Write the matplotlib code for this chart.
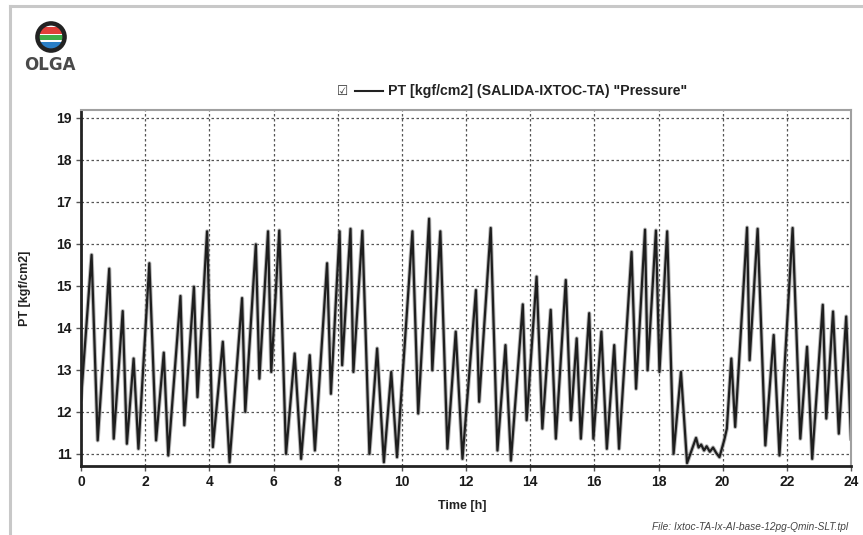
import matplotlib
matplotlib.use("Agg")
import matplotlib.pyplot as plt
from matplotlib.patches import Circle, Rectangle
from matplotlib.lines import Line2D

# ---------------- data ----------------
time_h = [0.00, 0.33, 0.52, 0.88, 1.02, 1.30, 1.43, 1.64, 1.79, 2.13, 2.34, 2.58, 2.72,
          3.10, 3.22, 3.52, 3.63, 3.93, 4.11, 4.42, 4.63, 5.02, 5.12, 5.45, 5.56, 5.83,
          5.93, 6.18, 6.39, 6.66, 6.86, 7.13, 7.29, 7.67, 7.79, 8.06, 8.14, 8.40, 8.49,
          8.77, 8.99, 9.23, 9.44, 9.67, 9.85, 10.33, 10.51, 10.85, 10.95, 11.20, 11.42,
          11.68, 11.89, 12.31, 12.41, 12.77, 12.98, 13.23, 13.40, 13.77, 13.89, 14.20,
          14.38, 14.64, 14.80, 15.11, 15.27, 15.45, 15.58, 15.84, 15.97, 16.22, 16.39,
          16.62, 16.77, 17.16, 17.30, 17.58, 17.66, 17.92, 18.03, 18.27, 18.47, 18.70,
          18.89, 19.17, 19.25, 19.33, 19.42, 19.50, 19.60, 19.70, 19.80, 19.90, 20.05,
          20.13, 20.27, 20.39, 20.76, 20.84, 21.09, 21.33, 21.59, 21.77, 22.18, 22.42,
          22.63, 22.79, 23.12, 23.23, 23.44, 23.62, 23.85, 24.00]
pressure = [12.30, 15.74, 11.32, 15.41, 11.36, 14.40, 11.24, 13.27, 11.12, 15.54, 11.32, 13.41, 10.96,
            14.76, 11.68, 14.98, 12.35, 16.30, 11.16, 13.67, 10.80, 14.71, 12.00, 15.99, 12.79, 16.30,
            12.95, 16.32, 11.00, 13.39, 10.88, 13.35, 11.08, 15.54, 12.43, 16.30, 13.11, 16.36, 12.95,
            16.31, 11.00, 13.51, 10.80, 12.95, 10.92, 16.30, 11.96, 16.60, 12.99, 16.30, 11.12,
            13.91, 10.88, 14.90, 12.24, 16.38, 11.08, 13.59, 10.84, 14.56, 11.80, 15.22,
            11.60, 14.43, 11.36, 15.14, 11.80, 13.75, 11.36, 14.35, 11.36, 13.91, 11.12,
            13.59, 11.12, 15.81, 12.55, 16.34, 12.99, 16.32, 12.95, 16.30, 11.00, 12.95,
            10.78, 11.38, 11.15, 11.22, 11.08, 11.18, 11.05, 11.15, 11.02, 10.92, 11.33,
            11.60, 13.27, 11.64, 16.39, 13.23, 16.36, 11.20, 13.83, 10.96, 16.38, 11.36,
            13.55, 10.88, 14.55, 11.84, 14.39, 11.48, 14.27, 11.36]

x_ticks = list(range(0, 25, 2))
y_ticks = list(range(11, 20))
series_label = 'PT [kgf/cm2] (SALIDA-IXTOC-TA) "Pressure"'
y_label = "PT [kgf/cm2]"
x_label = "Time [h]"
file_label = "File: Ixtoc-TA-Ix-AI-base-12pg-Qmin-SLT.tpl"

# ---------------- figure ----------------
W, H = 863, 535
fig = plt.figure(figsize=(W / 100, H / 100), dpi=100)
fig.patch.set_facecolor("white")
plt.rcParams["font.family"] = ["Liberation Sans", "DejaVu Sans"]

def fx(px):
    return px / W

def fy(py):
    return 1 - py / H

# outer frame (left & top visible)
fig.add_artist(Line2D([fx(10), fx(10)], [0, fy(6)], color="#c8c8c8", lw=2.2))
fig.add_artist(Line2D([fx(10), 1], [fy(6), fy(6)], color="#c8c8c8", lw=2.2))

ax = fig.add_axes([fx(81), fy(466), fx(851) - fx(81), fy(110) - fy(466)])
ax.plot(time_h, pressure, color="#8a8a8a", lw=3.0, alpha=0.6)
ax.plot(time_h, pressure, color="#1e1e1e", lw=1.6)
ax.set_xlim(0, 24)
ax.set_ylim(10.71, 19.19)
ax.set_xticks(x_ticks)
ax.set_yticks(y_ticks)
ax.grid(True, color="#555555", lw=0.9, linestyle=(0, (2.0, 2.0)))
ax.tick_params(axis="both", direction="out", length=3.5, width=1, color="#555555",
               labelsize=10, labelcolor="#1a1a1a", pad=3)
for lab in ax.get_xticklabels() + ax.get_yticklabels():
    lab.set_fontweight("bold")
for s in ("left", "bottom"):
    ax.spines[s].set_color("#222222")
    ax.spines[s].set_linewidth(2.0)
for s in ("top", "right"):
    ax.spines[s].set_color("#a0a0a0")
    ax.spines[s].set_linewidth(1.5)

fig.text(fx(462), fy(506), x_label, ha="center", va="center", fontsize=9,
         fontweight="bold", color="#222222")
fig.text(fx(25), fy(288), y_label, ha="center", va="center", rotation=90,
         fontsize=9, fontweight="bold", color="#222222")
fig.text(fx(848), fy(527), file_label, ha="right", va="center", fontsize=7.3,
         style="italic", color="#444444")

# legend entry
fig.text(fx(343), fy(91), "\u2611", ha="center", va="center", fontsize=9,
         color="#333333", family=["DejaVu Sans"])
fig.add_artist(Line2D([fx(355), fx(383)], [fy(91), fy(91)], color="#222222", lw=1.5))
fig.text(fx(388), fy(91), series_label, ha="left", va="center", fontsize=10.2,
         fontweight="bold", color="#222222")

# OLGA logo
lax = fig.add_axes([fx(35), fy(53), fx(32), fy(0) - fy(32)])
lax.set_xlim(-1, 1)
lax.set_ylim(-1, 1)
lax.set_aspect("equal")
lax.axis("off")
clip = Circle((0, 0), 0.78, transform=lax.transData)
lax.add_patch(Circle((0, 0), 0.78, facecolor="white", edgecolor="none"))
for y0, h, c in [(0.18, 0.45, "#e0403a"), (-0.18, 0.28, "#3fae49"), (-0.75, 0.45, "#2a7fc6")]:
    r = Rectangle((-1, y0), 2, h, facecolor=c, edgecolor="none")
    r.set_clip_path(clip)
    lax.add_patch(r)
lax.add_patch(Circle((0, 0), 0.85, facecolor="none", edgecolor="#222222", lw=3.2))
fig.text(fx(50), fy(65), "OLGA", ha="center", va="center", fontsize=12,
         fontweight="bold", color="#4a4a4a", family=["DejaVu Sans"])

fig.savefig("out.png", dpi=100, facecolor="white")
